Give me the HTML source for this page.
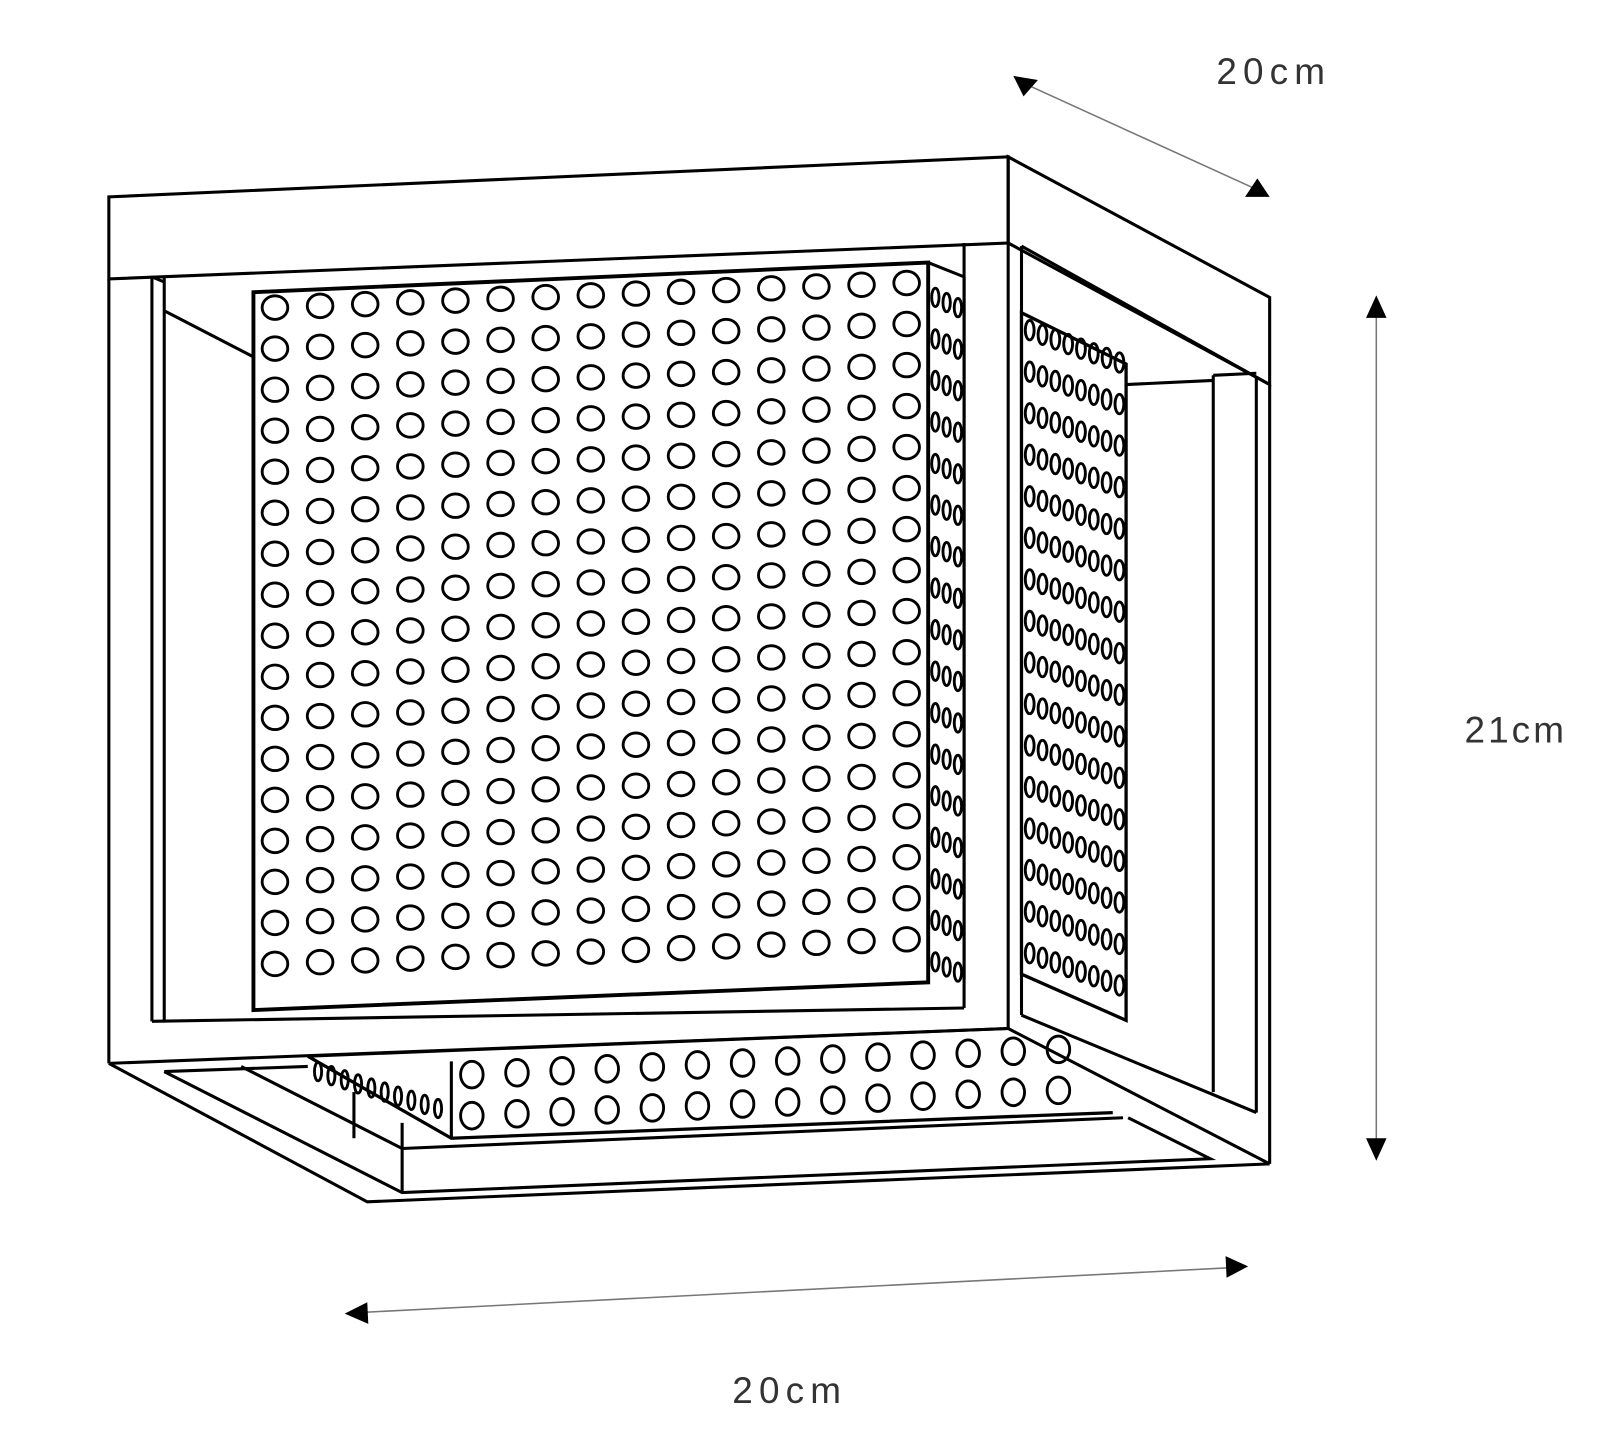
<!DOCTYPE html>
<html><head><meta charset="utf-8"><style>
html,body{margin:0;padding:0;background:#fff;}
svg{display:block}
text{font-family:"Liberation Sans",sans-serif;fill:#333;}
</style></head><body>
<svg id="s" width="1600" height="1451" viewBox="0 0 1560 1415" xmlns="http://www.w3.org/2000/svg">
<rect x="0" y="0" width="1560" height="1415" fill="#fff"/>
<g fill="none" stroke="#000" stroke-width="3" stroke-linejoin="miter">
<polygon points="106,192 983,153 983,237 106,272"/>
<polygon points="983,153 1238,290 1238,375 983,237"/>
<line x1="106" y1="272" x2="106" y2="1037"/>
<line x1="148" y1="270" x2="148" y2="996"/>
<line x1="160" y1="270" x2="160" y2="996"/>
<polyline points="148,270 160,275"/>
<line x1="160" y1="303" x2="247" y2="348"/>
<line x1="148" y1="996" x2="940" y2="983"/>
<line x1="106" y1="1037" x2="983" y2="1003"/>
<line x1="940" y1="237" x2="940" y2="983"/>
<line x1="983" y1="237" x2="983" y2="1003"/>
<line x1="996" y1="240" x2="996" y2="990"/>
<line x1="996" y1="240" x2="1238" y2="375"/>
<line x1="983" y1="1003" x2="1238" y2="1135"/>
<line x1="996" y1="990" x2="1225" y2="1085"/>
<line x1="1238" y1="375" x2="1238" y2="1135"/>
<line x1="1225" y1="368" x2="1225" y2="1085"/>
<line x1="1183" y1="366" x2="1183" y2="1065"/>
<polyline points="1183,366 1225,364"/>
<line x1="1098" y1="375" x2="1183" y2="371"/>
<polyline points="106,1037 358,1172 1238,1135"/>
<polyline points="160,1045 392,1163 1180,1130 1100,1090"/>
<line x1="160" y1="1045" x2="300" y2="1040"/>
<line x1="235" y1="1040" x2="392" y2="1120"/>
<line x1="392" y1="1120" x2="1095" y2="1090"/>
<line x1="392" y1="1095" x2="392" y2="1163"/>
<line x1="345" y1="1065" x2="345" y2="1110"/>
<polyline points="300,1030 440,1110 1085,1085" stroke-width="3.2"/>
<line x1="440" y1="1035" x2="440" y2="1110"/>
<line x1="300" y1="1030" x2="983" y2="1003"/>
<polygon points="247,285 905,256 905,958 247,985" stroke-width="3.8" fill="#fff"/>
<polyline points="905,256 940,270" />
<line x1="940" y1="270" x2="940" y2="955"/>
<polygon points="996,305 1098,355 1098,995 996,950" stroke-width="3.2" fill="#fff"/>
</g>
<g id="holes" fill="none" stroke="#000" stroke-width="2.8"></g>
<g stroke="#777" stroke-width="1.5" fill="none">
<line x1="1000" y1="82" x2="1228" y2="186"/>
<line x1="1342" y1="300" x2="1342" y2="1120"/>
<line x1="350" y1="1280" x2="1205" y2="1236"/>
</g>
<g fill="#000">
<polygon points="988,74 1012,78 998,94"/>
<polygon points="1238,192 1214,192 1226,174"/>
<polygon points="1342,288 1332,310 1352,310"/>
<polygon points="1342,1132 1332,1110 1352,1110"/>
<polygon points="336,1281 358,1270 359,1291"/>
<polygon points="1217,1235 1195,1225 1196,1246"/>
</g>
<text x="1186" y="82" font-size="36" letter-spacing="6">20cm</text>
<text x="1428" y="724" font-size="36" letter-spacing="3">21cm</text>
<text x="714" y="1368" font-size="36" letter-spacing="6">20cm</text>
</svg>
<script>
var g=document.getElementById('holes'),ns="http://www.w3.org/2000/svg";
function e(cx,cy,rx,ry){var el=document.createElementNS(ns,'ellipse');el.setAttribute('cx',cx);el.setAttribute('cy',cy);el.setAttribute('rx',rx);el.setAttribute('ry',ry);g.appendChild(el);}
for(var c=0;c<15;c++){var x=268+c*44;var y0=300-c*24/14;for(var r=0;r<18;r++){var y=y0+r*40;if(y>975-c*2)continue;e(x,y,12.5,11.5);}}
for(var c=0;c<8;c++){var x=1004+c*12.5;for(var r=0;r<16;r++){var y=322+c*4.5+r*40.5;if(y>940+c*6)continue;e(x,y,4.3,9.5);}}
for(var c=0;c<3;c++){var x=912+c*11;for(var r=0;r<17;r++){var y=290+c*5+r*40.5;if(y>950)continue;e(x,y,3.6,9);}}
for(var c=0;c<14;c++){var x=460+c*44;e(x,1048-c*1.9,11,13);e(x,1088-c*1.9,11,13);}
for(var c=0;c<10;c++){var x=310+c*13;e(x,1045+c*4,3.5,9);}
</script>
</body></html>
